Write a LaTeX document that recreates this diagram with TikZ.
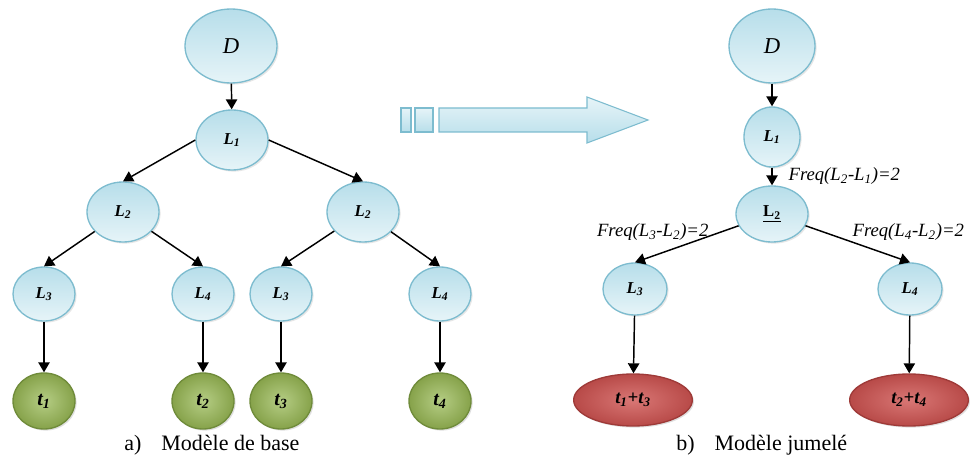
\documentclass[tikz,border=0pt]{standalone}
\usepackage{fontspec}
\setmainfont{Liberation Serif}
\usetikzlibrary{shapes.geometric,arrows.meta,shadows}

\definecolor{bleuhaut}{HTML}{B7DEEA}
\definecolor{bleubas}{HTML}{E6F4F8}
\definecolor{bleubord}{HTML}{7DBCCF}
\definecolor{vertclair}{HTML}{B5CD84}
\definecolor{vertfonce}{HTML}{86A24A}
\definecolor{vertbord}{HTML}{6F8B3A}
\definecolor{rougeclair}{HTML}{D97775}
\definecolor{rougefonce}{HTML}{B84A48}
\definecolor{rougebord}{HTML}{9E3A38}

\newcommand{\nomL}[1]{\textbf{\textit{L\textsubscript{#1}}}}
\newcommand{\nomt}[1]{\textbf{\textit{t\textsubscript{#1}}}}

\begin{document}
\begin{tikzpicture}[x=0.75pt,y=-0.75pt,>={Triangle[length=7.5pt,width=8.5pt]},
    noeud/.style={ellipse,inner sep=0pt,line width=1pt,draw=bleubord,top color=bleuhaut,bottom color=bleubas,
        drop shadow={opacity=0.2,shadow xshift=1.2pt,shadow yshift=-1.2pt},font=\fontsize{12.5}{14}\selectfont},
    feuille/.style={ellipse,inner sep=0pt,line width=1pt,draw=vertbord,inner color=vertclair,outer color=vertfonce,
        drop shadow={opacity=0.25,shadow xshift=1.2pt,shadow yshift=-1.2pt},font=\fontsize{15}{17}\selectfont,
        minimum width=46.5pt,minimum height=42pt},
    fusion/.style={ellipse,inner sep=0pt,line width=1pt,draw=rougebord,inner color=rougeclair,outer color=rougefonce,
        drop shadow={opacity=0.25,shadow xshift=1.2pt,shadow yshift=-1.2pt},font=\fontsize{14}{16}\selectfont,
        minimum width=89pt,minimum height=39pt},
    fil/.style={->,line width=1.1pt},
    freq/.style={font=\fontsize{14}{16}\itshape\selectfont,inner sep=1pt},
    legende/.style={anchor=base west,font=\fontsize{16.5}{19}\selectfont,inner sep=0pt},
    bloc/.style={line width=0.8pt,draw=bleubord,top color=bleubas,bottom color=bleuhaut}]
    \useasboundingbox (0,0) rectangle (970,459);
    \node[noeud,minimum width=69pt,minimum height=55.5pt,font=\fontsize{17}{19}\itshape\selectfont] (Da) at (231,46) {D};
    \node[noeud,minimum width=54pt,minimum height=45pt] (L1a) at (232,140) {\nomL{1}};
    \node[noeud,minimum width=54pt,minimum height=45pt] (L2a) at (123,212) {\nomL{2}};
    \node[noeud,minimum width=54pt,minimum height=45pt] (L2b) at (363,212) {\nomL{2}};
    \node[noeud,minimum width=46.5pt,minimum height=40.5pt] (L3a) at (44,294) {\nomL{3}};
    \node[noeud,minimum width=46.5pt,minimum height=40.5pt] (L4a) at (203,294) {\nomL{4}};
    \node[noeud,minimum width=46.5pt,minimum height=40.5pt] (L3b) at (281,294) {\nomL{3}};
    \node[noeud,minimum width=46.5pt,minimum height=40.5pt] (L4b) at (440,294) {\nomL{4}};
    \node[feuille] (t1) at (44,401) {\nomt{1}};
    \node[feuille] (t2) at (203,401) {\nomt{2}};
    \node[feuille] (t3) at (281,401) {\nomt{3}};
    \node[feuille] (t4) at (440,401) {\nomt{4}};
    \draw[fil] (Da) -- (L1a);
    \draw[fil] (L1a.west) -- (L2a.north);
    \draw[fil] (L1a.east) -- (L2b.north);
    \draw[fil] (L2a) -- (L3a.north);
    \draw[fil] (L2a) -- (L4a.north);
    \draw[fil] (L2b) -- (L3b.north);
    \draw[fil] (L2b) -- (L4b.north);
    \draw[fil] (L3a) -- (t1);
    \draw[fil] (L4a) -- (t2);
    \draw[fil] (L3b) -- (t3);
    \draw[fil] (L4b) -- (t4);
    \node[legende] (lega) at (124,450) {a)\hspace{15pt}Modèle de base};
    \draw[bloc] (401,108) rectangle (411,132);
    \draw[bloc] (415,108) rectangle (433,132);
    \draw[bloc] (439,108) -- (587,108) -- (587,97) -- (648,120) -- (587,143) -- (587,132) -- (439,132) -- cycle;
    \node[noeud,minimum width=64.5pt,minimum height=55.5pt,font=\fontsize{17}{19}\itshape\selectfont] (Dc) at (772,46) {D};
    \node[noeud,minimum width=42pt,minimum height=45pt] (L1c) at (772,137) {\nomL{1}};
    \node[noeud,minimum width=54pt,minimum height=42pt] (L2c) at (772,214) {\underline{\textbf{L\textsubscript{2}}}};
    \node[noeud,minimum width=48pt,minimum height=39pt] (L3c) at (635,289) {\nomL{3}};
    \node[noeud,minimum width=48pt,minimum height=39pt] (L4c) at (910,289) {\nomL{4}};
    \node[fusion] (t13) at (633,400) {\textbf{\textit{t\textsubscript{1}+t\textsubscript{3}}}};
    \node[fusion] (t24) at (909,400) {\textbf{\textit{t\textsubscript{2}+t\textsubscript{4}}}};
    \draw[fil] (Dc) -- (L1c);
    \draw[fil] (L1c) -- (L2c);
    \draw[fil] (L2c) -- (L3c.north);
    \draw[fil] (L2c) -- (L4c.north);
    \draw[fil] (L3c) -- (t13);
    \draw[fil] (L4c) -- (t24);
    \node[freq,anchor=west] (fq21) at (787,176) {Freq(L\textsubscript{2}-L\textsubscript{1})=2};
    \node[freq,anchor=east] (fq32) at (710,232) {Freq(L\textsubscript{3}-L\textsubscript{2})=2};
    \node[freq,anchor=west] (fq42) at (851,232) {Freq(L\textsubscript{4}-L\textsubscript{2})=2};
    \node[legende] (legb) at (676,450) {b)\hspace{15pt}Modèle jumelé};
\end{tikzpicture}
\end{document}
